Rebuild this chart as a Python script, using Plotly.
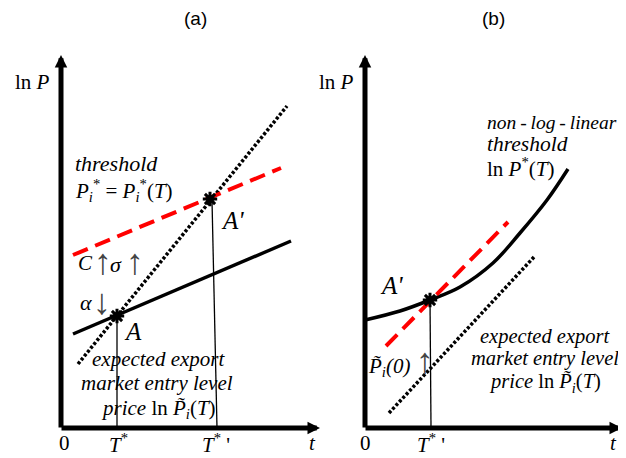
import plotly.graph_objects as go

# ---------------- data ----------------
# Panel (a)
a_solid_x = [0.48, 9.2]
a_solid_y = [3.76, 7.48]
a_thresh_x = [0.48, 8.8]
a_thresh_y = [6.92, 10.4]
a_entry_x = [0.68, 9.04]
a_entry_y = [2.56, 12.88]
a_pts_x = [2.24, 5.96]
a_pts_y = [4.48, 9.16]
a_dropA_x = [2.24, 2.24]
a_dropA_y = [4.48, 0]
a_dropA2_x = [6.04, 6.24]
a_dropA2_y = [9.12, 0]
a_axis_tip_x = 10.36
a_axis_tip_y = 14.92

# Panel (b)
b_curve_x = [0, 1.4, 2.6, 3.8, 5.12, 6.2, 7.28, 8.12]
b_curve_y = [4.32, 4.68, 5.12, 5.64, 6.6, 7.8, 9.12, 10.36]
b_tangent_x = [0.84, 5.72]
b_tangent_y = [3.28, 8.24]
b_entry_x = [0.96, 6.76]
b_entry_y = [0.6, 6.84]
b_pt_x = [2.6]
b_pt_y = [5.12]
b_drop_x = [2.6, 2.64]
b_drop_y = [5.12, 0]
b_axis_tip_x = 10.28
b_axis_tip_y = 14.92

a_ticks = ["0", "<i>T</i><sup>*</sup>", "<i>T</i><sup>*</sup> '", "<i>t</i>"]
b_ticks = ["0", "<i>T</i><sup>*</sup> '", "<i>t</i>"]

SERIF = "Liberation Serif, Times New Roman, Times, DejaVu Serif, serif"
SANS = "Liberation Sans, Arial, sans-serif"

fig = go.Figure()

def line(x, y, xa, ya, color="black", width=3.5, dash=None, shape="linear"):
    fig.add_trace(go.Scatter(x=x, y=y, xaxis=xa, yaxis=ya, mode="lines",
                             line=dict(color=color, width=width, dash=dash, shape=shape),
                             hoverinfo="skip", showlegend=False))

def stars(x, y, xa, ya):
    fig.add_trace(go.Scatter(x=x, y=y, xaxis=xa, yaxis=ya, mode="markers",
                             marker=dict(symbol="asterisk-open", size=12, color="black",
                                         line=dict(color="black", width=3)),
                             hoverinfo="skip", showlegend=False))

# Panel (a)
line(a_dropA_x, a_dropA_y, "x", "y", width=1.3)
line(a_dropA2_x, a_dropA2_y, "x", "y", width=1.3)
line(a_solid_x, a_solid_y, "x", "y", width=3.5)
line(a_entry_x, a_entry_y, "x", "y", width=3.5, dash="3px,2px")
line(a_thresh_x, a_thresh_y, "x", "y", color="#ff0000", width=4, dash="16px,8px")
stars(a_pts_x, a_pts_y, "x", "y")

# Panel (b)
line(b_drop_x, b_drop_y, "x2", "y2", width=1.3)
line(b_curve_x, b_curve_y, "x2", "y2", width=3.5, shape="spline")
line(b_entry_x, b_entry_y, "x2", "y2", width=3.5, dash="3px,2px")
line(b_tangent_x, b_tangent_y, "x2", "y2", color="#ff0000", width=4, dash="16px,8px")
stars(b_pt_x, b_pt_y, "x2", "y2")

ann = []

def arrow(xa, ya, x0, y0, x1, y1):
    ann.append(dict(xref=xa, yref=ya, axref=xa, ayref=ya, x=x1, y=y1, ax=x0, ay=y0,
                    showarrow=True, arrowhead=2, arrowsize=0.5, arrowwidth=5,
                    arrowcolor="black", text=""))

def txt(xa, ya, x, y, s, size=20, family=SERIF, xanchor="center", italic=False, color="black"):
    if italic:
        s = "<i>" + s + "</i>"
    ann.append(dict(xref=xa, yref=ya, x=x, y=y, text=s, showarrow=False,
                    xanchor=xanchor, yanchor="middle",
                    font=dict(family=family, size=size, color=color)))

# axes with arrows
arrow("x", "y", -0.04, 0, a_axis_tip_x, 0)
arrow("x", "y", 0, -0.04, 0, a_axis_tip_y)
arrow("x2", "y2", -0.04, 0, b_axis_tip_x, 0)
arrow("x2", "y2", 0, -0.04, 0, b_axis_tip_y)

PT = "<i>P\u0303</i>"
TS = "\u2009"
ARROW_C = "#444444"
AS = 36

# Panel (a) texts
txt("x", "y", 5.36, 16.4, "(a)", size=19, family=SANS)
txt("x", "y", -1.16, 13.84, "ln <i>P</i>", size=21)
txt("x", "y", 0.48, 10.6, "threshold", size=22, xanchor="left", italic=True)
txt("x", "y", 0.48, 9.52, "<i>P</i><sub><i>i</i></sub><sup>*</sup> = <i>P</i><sub><i>i</i></sub><sup>*</sup>(<i>T</i>)",
    size=21, xanchor="left")
txt("x", "y", 0.96, 6.6, "C", size=21, italic=True)
txt("x", "y", 1.68, 6.64, "↑", size=AS, color=ARROW_C)
txt("x", "y", 2.18, 6.56, "σ", size=22, italic=True)
txt("x", "y", 2.96, 6.64, "↑", size=AS, color=ARROW_C)
txt("x", "y", 1.0, 5.04, "α", size=22, italic=True)
txt("x", "y", 1.64, 5.04, "↓", size=AS, color=ARROW_C)
txt("x", "y", 2.88, 3.88, "A", size=25, italic=True)
txt("x", "y", 6.84, 8.32, "A'", size=25, italic=True)
txt("x", "y", 3.92, 2.76, "expected export", size=21, italic=True)
txt("x", "y", 3.84, 1.8, "market entry level", size=21, italic=True)
txt("x", "y", 3.88, 0.76, "<i>price</i> ln " + PT + "<sub><i>i</i></sub>(<i>T</i>)", size=21)
for xv, s in zip([0.12, 2.28, 6.2, 10.04], a_ticks):
    txt("x", "y", xv, -0.6, s, size=21)

# Panel (b) texts
txt("x2", "y2", 5.12, 16.4, "(b)", size=19, family=SANS)
txt("x2", "y2", -1.16, 13.84, "ln <i>P</i>", size=21)
txt("x2", "y2", 4.8, 12.24, "non" + TS + "-" + TS + "log" + TS + "-" + TS + "linear", size=19.5,
    xanchor="left", italic=True)
txt("x2", "y2", 4.8, 11.36, "threshold", size=21.5, xanchor="left", italic=True)
txt("x2", "y2", 4.8, 10.44, "ln <i>P</i><sup>*</sup>(<i>T</i>)", size=21, xanchor="left")
txt("x2", "y2", 1.04, 5.72, "A'", size=25, italic=True)
txt("x2", "y2", 0.96, 2.44, PT + "<sub><i>i</i></sub><i>(0)</i>", size=21)
txt("x2", "y2", 2.4, 2.68, "↑", size=AS, color=ARROW_C)
txt("x2", "y2", 7.2, 3.68, "expected export", size=20.5, italic=True)
txt("x2", "y2", 7.2, 2.8, "market entry level", size=20.5, italic=True)
txt("x2", "y2", 7.2, 1.8, "<i>price</i> ln " + PT + "<sub><i>i</i></sub>(<i>T</i>)", size=20.5)
for xv, s in zip([0, 2.64, 9.92], b_ticks):
    txt("x2", "y2", xv, -0.6, s, size=21)

# page body has an 8px margin: map figure pixels so the drawing lands where the reference has it
OFF = 8
U = 25.0          # pixels per data unit
W, H = 626, 458
a_org = (61, 428)  # reference pixel of panel (a) origin
b_org = (365, 428)
a_dom = (0, 330)
b_dom = (313, 626)

def xr(org, dom):
    return [(dom[0] + OFF - org[0]) / U, (dom[1] + OFF - org[0]) / U]

yr = [(a_org[1] - (H + OFF)) / U, (a_org[1] - OFF) / U]

hidden = dict(visible=False, fixedrange=True)
fig.update_layout(
    width=W, height=H,
    margin=dict(l=0, r=0, t=0, b=0),
    paper_bgcolor="white", plot_bgcolor="rgba(0,0,0,0)",
    xaxis=dict(domain=[a_dom[0] / W, a_dom[1] / W], range=xr(a_org, a_dom), **hidden),
    yaxis=dict(domain=[0, 1], range=yr, **hidden),
    xaxis2=dict(domain=[b_dom[0] / W, b_dom[1] / W], range=xr(b_org, b_dom), **hidden),
    yaxis2=dict(domain=[0, 1], range=yr, anchor="x2", **hidden),
    annotations=ann,
    showlegend=False,
)

fig.write_html("out.html")
